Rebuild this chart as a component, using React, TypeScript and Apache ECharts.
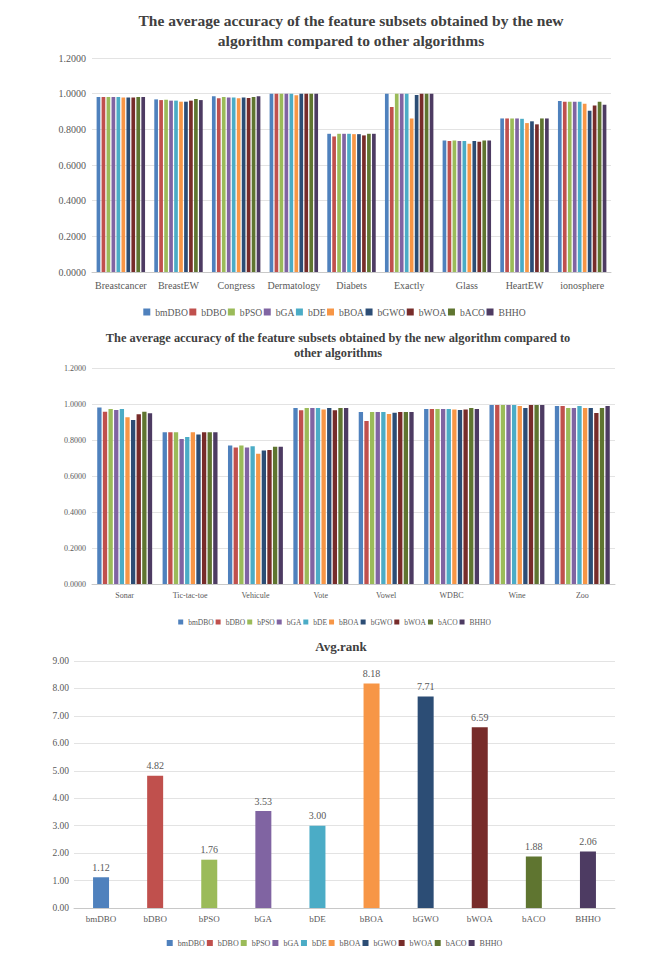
import React, { useEffect, useRef } from "react";
import * as echarts from "echarts";

const algorithms = ["bmDBO", "bDBO", "bPSO", "bGA", "bDE", "bBOA", "bGWO", "bWOA", "bACO", "BHHO"];
const algorithmColors = ["#4F81BD", "#C0504D", "#9BBB59", "#8064A2", "#4BACC6", "#F79646", "#2C4D75", "#772C2A", "#5F7530", "#4D3B62"];

// Chart 1: accuracy per dataset (values ordered like `algorithms`)
const datasets1 = ["Breastcancer", "BreastEW", "Congress", "Dermatology", "Diabets", "Exactly", "Glass", "HeartEW", "ionosphere"];
const breastcancer = [0.981, 0.981, 0.981, 0.981, 0.981, 0.979, 0.979, 0.978, 0.981, 0.981];
const breastEW = [0.968, 0.964, 0.966, 0.961, 0.961, 0.955, 0.955, 0.961, 0.970, 0.964];
const congress = [0.985, 0.974, 0.981, 0.979, 0.979, 0.974, 0.979, 0.976, 0.981, 0.985];
const dermatology = [1.0, 1.0, 1.0, 1.0, 1.0, 0.991, 1.0, 1.0, 1.0, 1.0];
const diabets = [0.775, 0.760, 0.775, 0.775, 0.775, 0.773, 0.773, 0.766, 0.775, 0.775];
const exactly = [1.0, 0.925, 1.0, 1.0, 1.0, 0.861, 0.993, 1.0, 1.0, 1.0];
const glass = [0.738, 0.734, 0.738, 0.734, 0.734, 0.719, 0.734, 0.730, 0.738, 0.738];
const heartEW = [0.861, 0.861, 0.861, 0.861, 0.859, 0.835, 0.845, 0.828, 0.861, 0.861];
const ionosphere = [0.959, 0.955, 0.955, 0.955, 0.955, 0.944, 0.904, 0.934, 0.955, 0.938];
const accuracy1 = [breastcancer, breastEW, congress, dermatology, diabets, exactly, glass, heartEW, ionosphere];

// Chart 2
const datasets2 = ["Sonar", "Tic-tac-toe", "Vehicule", "Vote", "Vowel", "WDBC", "Wine", "Zoo"];
const sonar = [0.981, 0.957, 0.972, 0.967, 0.972, 0.926, 0.911, 0.943, 0.957, 0.948];
const ticTacToe = [0.843, 0.843, 0.843, 0.806, 0.817, 0.843, 0.830, 0.843, 0.843, 0.843];
const vehicule = [0.769, 0.759, 0.769, 0.759, 0.765, 0.724, 0.741, 0.744, 0.763, 0.763];
const vote = [0.978, 0.965, 0.978, 0.978, 0.978, 0.969, 0.978, 0.965, 0.978, 0.978];
const vowel = [0.956, 0.906, 0.956, 0.956, 0.956, 0.944, 0.952, 0.956, 0.956, 0.956];
const wdbc = [0.972, 0.972, 0.972, 0.972, 0.972, 0.970, 0.967, 0.970, 0.978, 0.972];
const wine = [0.994, 0.994, 0.994, 0.994, 0.994, 0.989, 0.978, 0.994, 0.994, 0.994];
const zoo = [0.989, 0.989, 0.978, 0.978, 0.989, 0.978, 0.978, 0.950, 0.978, 0.989];
const accuracy2 = [sonar, ticTacToe, vehicule, vote, vowel, wdbc, wine, zoo];

// Chart 3
const avgRank = [1.12, 4.82, 1.76, 3.53, 3.0, 8.18, 7.71, 6.59, 1.88, 2.06];

const title1 = "The average accuracy of the feature subsets obtained by the new\nalgorithm compared to other algorithms";
const title2 = "The average accuracy of the feature subsets obtained by the new algorithm compared to\nother algorithms";
const title3 = "Avg.rank";

const FONT = "'Liberation Serif', 'Times New Roman', serif";
const TEXT = "#595959";
const GRID_LINE = "#e3e3e3";
const AXIS_LINE = "#c8c8c8";

export default function App() {
  const ref = useRef<HTMLDivElement>(null);

  useEffect(() => {
    if (!ref.current) return;
    const chart = echarts.init(ref.current, undefined, { renderer: "svg" });

    const catAxis = (idx: number, data: string[], fontSize: number, margin: number) => ({
      type: "category",
      gridIndex: idx,
      data,
      axisTick: { show: false },
      axisLine: { lineStyle: { color: AXIS_LINE } },
      axisLabel: { color: TEXT, fontFamily: FONT, fontSize, margin, interval: 0 },
    });
    const valAxis = (idx: number, max: number, interval: number, digits: number, fontSize: number, margin: number) => ({
      type: "value",
      gridIndex: idx,
      min: 0,
      max,
      interval,
      axisLine: { show: false },
      axisTick: { show: false },
      splitLine: { lineStyle: { color: GRID_LINE } },
      axisLabel: {
        color: TEXT,
        fontFamily: FONT,
        fontSize,
        margin,
        formatter: (v: number) => v.toFixed(digits),
      },
    });
    const legend = (top: number, fontSize: number, size: number, gap: number) => ({
      data: algorithms,
      top,
      left: "center",
      icon: "rect",
      itemWidth: size,
      itemHeight: size,
      itemGap: gap,
      selectedMode: false,
      textStyle: { color: TEXT, fontFamily: FONT, fontSize },
    });

    const series1 = algorithms.map((name, i) => ({
      type: "bar",
      name,
      xAxisIndex: 0,
      yAxisIndex: 0,
      data: accuracy1.map((row) => row[i]),
      itemStyle: { color: algorithmColors[i] },
      barGap: "35%",
      barCategoryGap: "16%",
    }));
    const series2 = algorithms.map((name, i) => ({
      type: "bar",
      name,
      xAxisIndex: 1,
      yAxisIndex: 1,
      data: accuracy2.map((row) => row[i]),
      itemStyle: { color: algorithmColors[i] },
      barGap: "30%",
      barCategoryGap: "16%",
    }));
    const series3 = algorithms.map((name, i) => ({
      type: "bar",
      name,
      xAxisIndex: 2,
      yAxisIndex: 2,
      data: algorithms.map((_, j) => (j === i ? avgRank[i] : null)),
      itemStyle: { color: algorithmColors[i] },
      barWidth: 16,
      barGap: "-100%",
      label: {
        show: true,
        position: "top",
        distance: 5,
        color: TEXT,
        fontFamily: FONT,
        fontSize: 10,
        formatter: (p: any) => Number(p.value).toFixed(2),
      },
    }));

    chart.setOption({
      animation: false,
      backgroundColor: "#ffffff",
      title: [
        {
          text: title1,
          left: 346,
          top: 5,
          textAlign: "center",
          textStyle: { fontFamily: FONT, fontWeight: "bold", fontSize: 15.5, lineHeight: 20, color: "#404040" },
        },
        {
          text: title2,
          left: 333,
          top: 325,
          textAlign: "center",
          textStyle: { fontFamily: FONT, fontWeight: "bold", fontSize: 12.4, lineHeight: 15, color: "#404040" },
        },
        {
          text: title3,
          left: 336,
          top: 633,
          textAlign: "center",
          textStyle: { fontFamily: FONT, fontWeight: "bold", fontSize: 13, lineHeight: 16, color: "#404040" },
        },
      ],
      legend: [legend(302, 9.6, 7, 1.5), legend(613, 7.5, 5, 2), legend(934, 8, 6, 2)],
      grid: [
        { left: 92, right: 58, top: 58, height: 214 },
        { left: 92, right: 54, top: 368, height: 216 },
        { left: 74, right: 54, top: 661, height: 247 },
      ],
      xAxis: [catAxis(0, datasets1, 10, 8), catAxis(1, datasets2, 8, 7), catAxis(2, algorithms, 9, 6)],
      yAxis: [valAxis(0, 1.2, 0.2, 4, 10, 6), valAxis(1, 1.2, 0.2, 4, 8, 6), valAxis(2, 9, 1, 2, 9.5, 5)],
      series: [...series1, ...series2, ...series3],
    });

    return () => chart.dispose();
  }, []);

  return (
    <div
      ref={ref}
      style={{ position: "absolute", left: 0, top: 0, width: 669, height: 960, background: "#fff" }}
    />
  );
}
